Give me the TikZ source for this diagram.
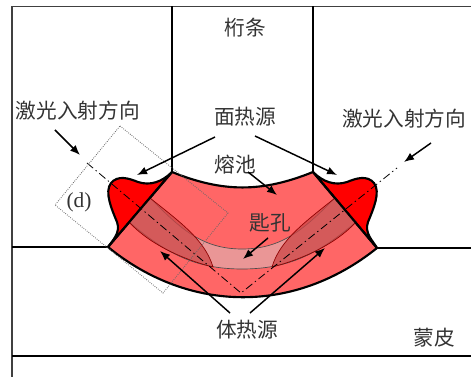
\documentclass[tikz,border=0pt]{standalone}
\usepackage{fontspec}
\setmainfont{Liberation Serif}
\newfontfamily\cjk{Noto Sans CJK SC}
\usetikzlibrary{arrows.meta}
\definecolor{poolred}{RGB}{255,102,102}
\definecolor{bandpink}{RGB}{234,150,150}
\definecolor{wedgered}{RGB}{205,70,70}
\begin{document}
\begin{tikzpicture}[x=0.75pt,y=-0.75pt,
    frame/.style={line width=1pt,black!75},
    wall/.style={line width=1.5pt},
    edge/.style={line width=1.6pt,line join=round},
    beam/.style={line width=0.6pt,dash pattern=on 6pt off 2.5pt on 1pt off 2.5pt},
    arr/.style={line width=1.1pt,-{Latex[length=7.5pt,width=6pt]}},
    lbl/.style={font=\cjk\fontsize{15.5}{18}\selectfont,text=black!80,inner sep=0pt}]
    \useasboundingbox (0,0) rectangle (471,377);
    \draw[frame] (12,377) -- (12,6.5) -- (471,6.5);
    \draw[wall] (172,6.5) -- (172,172) (313,6.5) -- (313,172);
    \draw[wall] (12,247) -- (108,247) (377,248) -- (471,248);
    \draw[wall] (12,356) -- (471,356);
    % pool and the two fillets
    \fill[poolred] (172,172) to[bend right=22] (313,172) -- (377,248)
        to[bend left=39] (108,247) -- cycle;
    \filldraw[fill=red,edge] (172,172) .. controls (162,182) and (150,186) .. (138,182)
        .. controls (128,178) and (118,175) .. (111,183)
        .. controls (104,192) and (112,210) .. (117,222)
        .. controls (121,233) and (112,241) .. (108,247) -- cycle;
    \filldraw[fill=red,edge] (313,172) .. controls (323,182) and (335,186) .. (347,182)
        .. controls (357,178) and (367,175) .. (374,183)
        .. controls (381,192) and (373,210) .. (368,222)
        .. controls (364,233) and (373,241) .. (377,248) -- cycle;
    \filldraw[fill=bandpink,draw=black!70,line width=0.5pt]
        (150,198) to[out=-45,in=180] (242,249) to[out=0,in=-135] (335,198)
        -- (356,222) to[out=-140,in=0] (242,269) to[out=180,in=-40] (129,222) -- cycle;
    \filldraw[fill=wedgered,fill opacity=0.75,draw=red!55!black,line width=0.5pt]
        (150,198) .. controls (180,222) and (205,240) .. (213,267)
        .. controls (185,260) and (150,245) .. (129,222) -- cycle;
    \filldraw[fill=wedgered,fill opacity=0.75,draw=red!55!black,line width=0.5pt]
        (335,198) .. controls (305,222) and (280,240) .. (272,267)
        .. controls (300,260) and (335,245) .. (356,222) -- cycle;
    \draw[edge] (172,172) to[bend right=22] (313,172) -- (377,248)
        to[bend left=39] (108,247) -- cycle;
    % beam axes and the detail box
    \coordinate (root) at (241,293);
    \draw[beam] (87,163) -- (root) -- (397,168);
    \draw[densely dotted,black!60,line width=0.6pt] (120,126) -- (228,213) -- (163,293) -- (55,205) -- cycle;
    \node[font=\fontsize{16}{18}\selectfont,text=black!80] (d) at (79,202) {(d)};
    % labels
    \node[lbl] (hengtiao) at (245,28) {桁条};
    \node[lbl] (laserL) at (78,111) {激光入射方向};
    \node[lbl] (laserR) at (404,119) {激光入射方向};
    \node[lbl] (mianre) at (245,117) {面热源};
    \node[lbl] (rongchi) at (235,165) {熔池};
    \node[lbl] (shikong) at (270,223) {匙孔};
    \node[lbl] (tire) at (247,330) {体热源};
    \node[lbl] (mengpi) at (434,338) {蒙皮};
    % arrows
    \coordinate (aL) at (55,130);   \coordinate (bL) at (80,155);
    \coordinate (aR) at (431,143);  \coordinate (bR) at (404,162);
    \coordinate (m1) at (215,137);  \coordinate (m2) at (137,175);
    \coordinate (m3) at (255,136);  \coordinate (m4) at (337,175);
    \coordinate (r1) at (248,172);  \coordinate (r2) at (277,195);
    \coordinate (s1) at (268,238);  \coordinate (s2) at (243,259);
    \coordinate (t1) at (230,313);  \coordinate (t2) at (160,251);
    \coordinate (t3) at (250,313);  \coordinate (t4) at (325,248);
    \draw[arr] (aL) -- (bL);
    \draw[arr] (aR) -- (bR);
    \draw[arr] (m1) -- (m2);
    \draw[arr] (m3) -- (m4);
    \draw[arr] (r1) -- (r2);
    \draw[arr] (s1) -- (s2);
    \draw[arr] (t1) -- (t2);
    \draw[arr] (t3) -- (t4);
\end{tikzpicture}
\end{document}
